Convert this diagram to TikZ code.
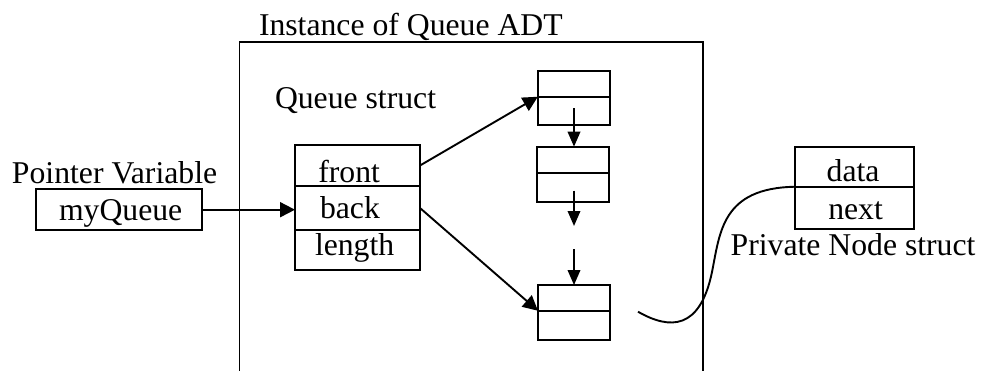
\documentclass[tikz,border=0pt]{standalone}
\usepackage{fontspec}
\setmainfont{Liberation Serif}
\usetikzlibrary{arrows.meta}
\begin{document}
\begin{tikzpicture}[x=1pt,y=-1pt,
  every node/.style={font=\fontsize{31.7}{38}\selectfont},
  cell/.style={draw,line width=1.9pt,inner sep=0pt,outer sep=0pt},
  lbl/.style={anchor=base west,inner sep=0pt,outer sep=0pt},
  arr/.style={line width=1.9pt,-{Triangle[length=15pt,width=15pt]}},
  darr/.style={line width=1.9pt,-{Triangle[length=15pt,width=12.5pt]}},
  ln/.style={line width=1.9pt}]
\useasboundingbox (0,0) rectangle (981,370);
% outer box (open at the bottom)
\coordinate (obl) at (239.5,371);
\coordinate (obtl) at (239.5,41.7);
\coordinate (obtr) at (703.3,41.7);
\coordinate (obr) at (703.3,371);
\draw[ln] (obl) -- (obtl) -- (obtr) -- (obr);
\node[lbl] (tinst) at (259,35) {Instance of Queue ADT};
\node[lbl] (tqs) at (275,108) {Queue struct};
\node[lbl] (tpv) at (12,183) {Pointer Variable};
% pointer variable
\node[cell,minimum width=166pt,minimum height=40.7pt] (myq) at (118.7,209.7) {};
\node[lbl] (tmyq) at (59,220) {myQueue};
% queue struct
\node[cell,minimum width=125pt,minimum height=41pt] (qf) at (357.5,165.5) {};
\node[cell,minimum width=125pt,minimum height=44pt] (qb) at (357.5,208) {};
\node[cell,minimum width=125pt,minimum height=40pt] (ql) at (357.5,250) {};
\node[lbl] (tfront) at (318.3,182) {front};
\node[lbl] (tback) at (320,218.3) {back};
\node[lbl] (tlen) at (315,255) {length};
% list nodes
\node[cell,minimum width=72.3pt,minimum height=26pt] (n1a) at (574,83.7) {};
\node[cell,minimum width=72.3pt,minimum height=28.3pt] (n1b) at (574,110.9) {};
\node[cell,minimum width=72pt,minimum height=26pt] (n2a) at (573,159.7) {};
\node[cell,minimum width=72pt,minimum height=29pt] (n2b) at (573,187.2) {};
\node[cell,minimum width=72pt,minimum height=25.7pt] (n3a) at (574,297.9) {};
\node[cell,minimum width=72pt,minimum height=29.3pt] (n3b) at (574,325.4) {};
% private node struct
\node[cell,minimum width=119.3pt,minimum height=39.4pt] (pa) at (854.7,167) {};
\node[cell,minimum width=119.3pt,minimum height=42.3pt] (pb) at (854.7,207.9) {};
\node[lbl] (tdata) at (826.7,181.7) {data};
\node[lbl] (tnext) at (828.3,219) {next};
\node[lbl] (tpns) at (730.7,255) {Private Node struct};
% connectors
\draw[arr] (myq.east) -- (myq.east -| qb.west);
\draw[arr] (qf.east) -- (n1b.north west);
\draw[arr] (qb.east) -- (n3b.north west);
\coordinate (d1s) at (574,108);
\coordinate (d2s) at (574,190.7);
\coordinate (d2e) at (574,226);
\coordinate (d3s) at (574,249);
\draw[darr] (d1s) -- (d1s |- n2a.north);
\draw[darr] (d2s) -- (d2e);
\draw[darr] (d3s) -- (d3s |- n3a.north);
\coordinate (cs) at (638,311.7);
\coordinate (cm) at (712,272);
\draw[ln] (cs) .. controls (670,330) and (700,330) .. (cm)
  .. controls (720,232) and (722,188) .. (pb.north west);
\end{tikzpicture}
\end{document}
